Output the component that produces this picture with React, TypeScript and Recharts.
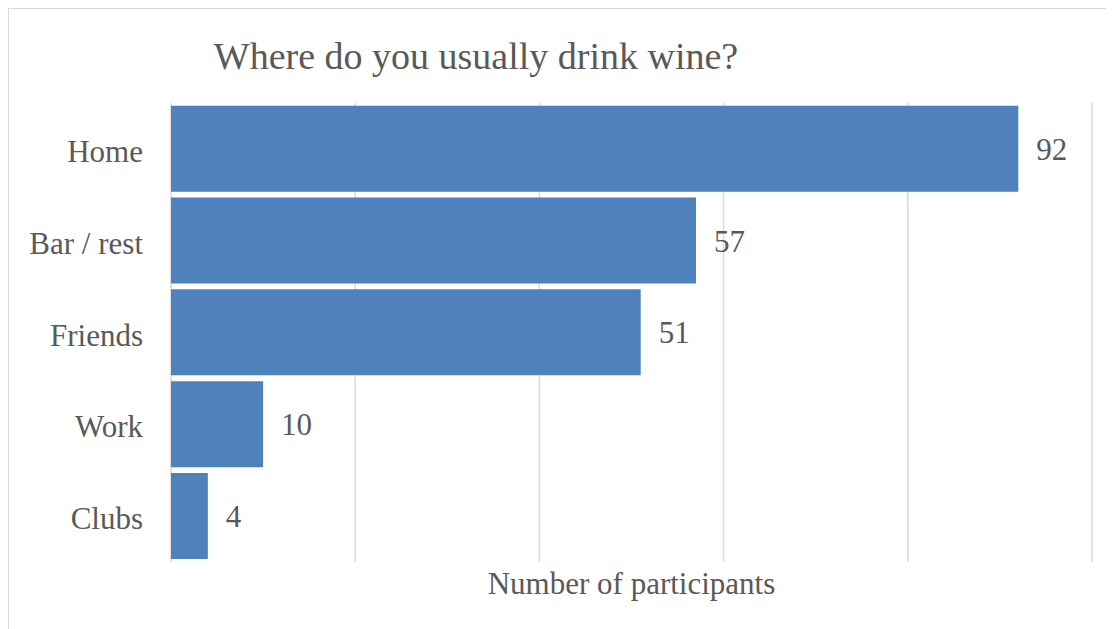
import { BarChart, Bar, XAxis, YAxis, CartesianGrid, LabelList } from 'recharts'

const places = ['Home', 'Bar / rest', 'Friends', 'Work', 'Clubs']
const participants = [92, 57, 51, 10, 4]
const xTicks = [0, 20, 40, 60, 80, 100]

const FONT = "'Liberation Serif', 'Times New Roman', serif"
const TEXT_COLOR = '#595959'

const data = places.map((place, i) => ({ place, count: participants[i] }))

export default function App() {
  return (
    <div
      style={{
        position: 'relative',
        width: 1105,
        height: 621,
        borderLeft: '1px solid #d9d9d9',
        borderTop: '1px solid #d9d9d9',
        background: '#fff',
        fontFamily: FONT,
      }}
    >
      <div
        style={{
          position: 'absolute',
          left: 167,
          top: 28,
          width: 600,
          textAlign: 'center',
          fontSize: 38,
          lineHeight: '38px',
          color: TEXT_COLOR,
          whiteSpace: 'nowrap',
        }}
      >
        Where do you usually drink wine?
      </div>
      <BarChart
        width={1105}
        height={620}
        data={data}
        layout="vertical"
        margin={{ top: 94, right: 22, bottom: 25, left: 0 }}
        barCategoryGap="3%"
      >
        <CartesianGrid horizontal={false} stroke="#d9d9d9" strokeWidth={1.5} />
        <XAxis
          type="number"
          domain={[0, 100]}
          ticks={xTicks}
          interval={0}
          tick={() => <g />}
          tickLine={false}
          axisLine={false}
          height={42}
          label={{
            value: 'Number of participants',
            position: 'center',
            fill: TEXT_COLOR,
            fontSize: 31,
            fontFamily: FONT,
          }}
        />
        <YAxis
          type="category"
          dataKey="place"
          width={162}
          tickLine={false}
          axisLine={false}
          tickSize={0}
          tickMargin={28}
          tick={{ fill: TEXT_COLOR, fontSize: 31, fontFamily: FONT, dy: 2 }}
        />
        <Bar dataKey="count" fill="#4f81bd" isAnimationActive={false}>
          <LabelList
            dataKey="count"
            position="right"
            offset={18}
            fill={TEXT_COLOR}
            fontSize={31}
            fontFamily={FONT}
          />
        </Bar>
      </BarChart>
    </div>
  )
}
